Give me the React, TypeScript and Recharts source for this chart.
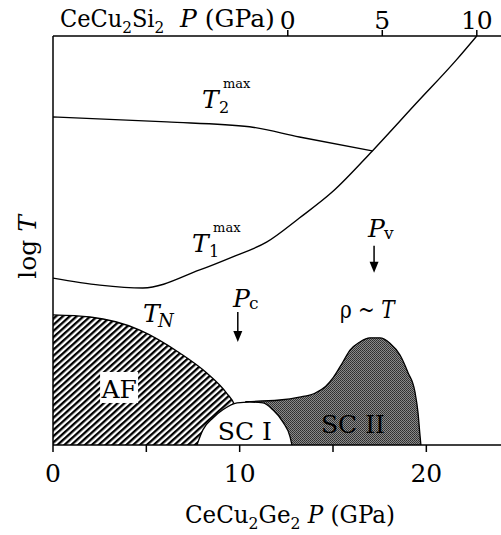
import React from 'react';
import {
  ComposedChart,
  XAxis,
  YAxis,
  Area,
  Line,
  ReferenceDot,
  ReferenceLine,
} from 'recharts';

const SERIF = "'DejaVu Serif', serif";
const FS = 25; // main text size
const FS_SUB = 17;

// CeCu2Ge2 pressure (GPa) vs. log T (arbitrary units, 0..100)
const AF_P = [0, 1.98, 4.65, 6.79, 8.24, 9.3, 9.73, 10.0, 10.16];
const AF_T = [31.8, 31.3, 28.1, 22.5, 17.6, 12.7, 9.8, 6.1, 0];

const SC1_P = [7.71, 8.03, 8.57, 9.1, 9.86, 10.55, 11.25, 11.78, 12.32, 12.7, 12.8];
const SC1_T = [0, 3.7, 6.6, 8.6, 10.3, 10.5, 10.3, 8.6, 5.6, 2.0, 0];

const SC2_P = [10.3, 12.14, 13.2, 14.0, 14.6, 15.0, 15.53, 15.91, 16.44, 16.98, 17.51, 18.05, 18.59, 19.01, 19.39, 19.55, 19.66, 19.71];
const SC2_T = [10.6, 11.0, 11.7, 12.6, 14.3, 16.4, 20.3, 23.2, 25.2, 26.2, 26.2, 24.9, 22.0, 17.8, 13.0, 8.1, 2.4, 0];

const T1_P = [0, 2.51, 4.81, 7.86, 9.63, 11.44, 13.2, 14.97, 17.11, 19.47, 21.6, 22.7];
const T1_T = [40.8, 39.1, 38.4, 42.8, 46.0, 49.6, 55.5, 61.9, 71.9, 83.6, 94.1, 100];

const T2_P = [0, 6.1, 10.53, 13.2, 17.11];
const T2_T = [80.2, 79.0, 77.8, 75.3, 71.9];

const BOTTOM_TICKS = [0, 5, 10, 15, 20];
const BOTTOM_LABELED = [0, 10, 20];
// CeCu2Si2 pressure scale (shifted against CeCu2Ge2)
const TOP_TICKS = [0, 5, 10];

const rows = (p: number[], t: number[]) => p.map((x, i) => ({ p: x, t: t[i] }));

const txt = { fill: '#000', fontFamily: SERIF } as const;

const TLabel = ({ cx, cy, sub, sup, subItalic }: any) => (
  <g>
    <text x={cx} y={cy} fontSize={FS} fontStyle="italic" {...txt}>T</text>
    <text x={cx + (sup ? 17 : 15)} y={cy + 5} fontSize={sup ? 16 : 18} fontStyle={subItalic ? 'italic' : 'normal'} {...txt}>{sub}</text>
    {sup && <text x={cx + 21} y={cy - 20} fontSize={13} {...txt}>{sup}</text>}
  </g>
);

const PLabel = ({ cx, cy, sub }: any) => (
  <g>
    <text x={cx} y={cy} fontSize={FS} fontStyle="italic" {...txt}>P</text>
    <text x={cx + 16} y={cy + 2} fontSize={FS_SUB} {...txt}>{sub}</text>
  </g>
);

const Arrow = ({ x1, y1, x2, y2 }: any) => (
  <g>
    <line x1={x1} y1={y1} x2={x2} y2={y2 - 8} stroke="#000" strokeWidth={1.5} />
    <polygon points={`${x2 - 4.5},${y2 - 11} ${x2 + 4.5},${y2 - 11} ${x2},${y2}`} fill="#000" />
  </g>
);

const RegionLabel = ({ cx, cy, text, boxed }: any) => (
  <g>
    {boxed && <rect x={cx - 19} y={cy - 26} width={38} height={31} fill="#fff" />}
    <text x={cx} y={cy} fontSize={FS} textAnchor="middle" {...txt}>{text}</text>
  </g>
);

const BottomTitle = ({ viewBox }: any) => (
  <text
    x={0}
    y={0}
    fontSize={FS}
    transform={`translate(${viewBox.x + 132},${viewBox.y + 78}) scale(0.92,1)`}
    {...txt}
  >
    CeCu<tspan fontSize={FS_SUB} dy={6}>2</tspan>
    <tspan dy={-6}>Ge</tspan>
    <tspan fontSize={FS_SUB} dy={6}>2</tspan>
    <tspan dy={-6} fontStyle="italic"> P</tspan>
    <tspan> (GPa)</tspan>
  </text>
);

const TopTitle = () => (
  <g>
    <text x={0} y={0} fontSize={FS} transform="translate(60,27) scale(0.9,1)" {...txt}>
      CeCu<tspan fontSize={FS_SUB} dy={6}>2</tspan>
      <tspan dy={-6}>Si</tspan>
      <tspan fontSize={FS_SUB} dy={6}>2</tspan>
    </text>
    <text x={180} y={27} fontSize={FS} {...txt}>
      <tspan fontStyle="italic">P</tspan> (GPa)
    </text>
  </g>
);

const YTitle = () => (
  <text x={0} y={0} fontSize={FS} textAnchor="middle" transform="translate(36,247) rotate(-90)" {...txt}>
    log <tspan fontStyle="italic">T</tspan>
  </text>
);

const tickText = { fontSize: FS, fill: '#000', fontFamily: SERIF };

export default function App() {
  return (
    <div style={{ position: 'absolute', left: 0, top: 0, background: '#fff' }}>
      <ComposedChart width={501} height={535} margin={{ top: 0, right: 0, bottom: 0, left: 0 }}>
        <defs>
          <pattern id="afHatch" width="4.6" height="4.6" patternUnits="userSpaceOnUse" patternTransform="rotate(-42)">
            <rect width="4.6" height="4.6" fill="#fff" />
            <rect width="4.6" height="2.3" fill="#000" />
          </pattern>
          <pattern id="sc2Dots" width="2" height="2" patternUnits="userSpaceOnUse">
            <rect width="2" height="2" fill="#8a8a8a" />
            <rect width="1" height="1" fill="#2e2e2e" />
            <rect x="1" y="1" width="1" height="1" fill="#3a3a3a" />
          </pattern>
        </defs>
        <XAxis
          type="number"
          dataKey="p"
          domain={[0, 24]}
          allowDataOverflow
          ticks={BOTTOM_TICKS}
          tickFormatter={(v: number) => (BOTTOM_LABELED.includes(v) ? String(v) : '')}
          height={90}
          tickSize={7}
          tickMargin={12}
          stroke="#000"
          axisLine={{ stroke: '#000', strokeWidth: 1.5 }}
          tickLine={{ stroke: '#000', strokeWidth: 1.5 }}
          tick={tickText}
          label={<BottomTitle />}
        />
        <XAxis
          xAxisId="top"
          orientation="top"
          type="number"
          dataKey="p"
          domain={[-12.42, 11.28]}
          allowDataOverflow
          ticks={TOP_TICKS}
          height={36}
          tickSize={6}
          tickMargin={1}
          stroke="#000"
          axisLine={{ stroke: '#000', strokeWidth: 1.5 }}
          tickLine={{ stroke: '#000', strokeWidth: 1.5 }}
          tick={tickText}
          label={<TopTitle />}
        />
        <YAxis
          type="number"
          dataKey="t"
          domain={[0, 100]}
          allowDataOverflow
          width={53}
          tick={false}
          tickLine={false}
          axisLine={{ stroke: '#000', strokeWidth: 1.5 }}
          label={<YTitle />}
        />

        <Area data={rows(AF_P, AF_T)} dataKey="t" type="monotone" baseValue={0} fill="url(#afHatch)" fillOpacity={1} stroke="#000" strokeWidth={1.3} isAnimationActive={false} />
        <Area data={rows(SC2_P, SC2_T)} dataKey="t" type="monotone" baseValue={0} fill="url(#sc2Dots)" fillOpacity={1} stroke="#000" strokeWidth={1.3} isAnimationActive={false} />
        <Area data={rows(SC1_P, SC1_T)} dataKey="t" type="monotone" baseValue={0} fill="#fff" fillOpacity={1} stroke="#000" strokeWidth={1.3} isAnimationActive={false} />

        <Line data={rows(T1_P, T1_T)} dataKey="t" type="monotone" dot={false} stroke="#000" strokeWidth={1.4} isAnimationActive={false} />
        <Line data={rows(T2_P, T2_T)} dataKey="t" type="monotone" dot={false} stroke="#000" strokeWidth={1.4} isAnimationActive={false} />
        {/* keeps the CeCu2Si2 axis bound to a series so its ticks render */}
        <Line xAxisId="top" data={TOP_TICKS.map((p) => ({ p, t: 100 }))} dataKey="t" stroke="none" dot={false} activeDot={false} isAnimationActive={false} />

        <ReferenceLine segment={[{ x: 9.9, y: 32.5 }, { x: 9.9, y: 25.2 }]} shape={(p: any) => <Arrow {...p} />} />
        <ReferenceLine segment={[{ x: 17.2, y: 48.7 }, { x: 17.2, y: 42.1 }]} shape={(p: any) => <Arrow {...p} />} />

        <ReferenceDot x={7.98} y={82.4} r={0} shape={(p: any) => <TLabel cx={p.cx} cy={p.cy} sub="2" sup="max" />} />
        <ReferenceDot x={7.45} y={47.2} r={0} shape={(p: any) => <TLabel cx={p.cx} cy={p.cy} sub="1" sup="max" />} />
        <ReferenceDot x={4.82} y={30.1} r={0} shape={(p: any) => <TLabel cx={p.cx} cy={p.cy} sub="N" subItalic />} />
        <ReferenceDot x={9.64} y={33.7} r={0} shape={(p: any) => <PLabel cx={p.cx} cy={p.cy} sub="c" />} />
        <ReferenceDot x={16.87} y={50.9} r={0} shape={(p: any) => <PLabel cx={p.cx} cy={p.cy} sub="v" />} />
        <ReferenceDot
          x={15.37}
          y={31.1}
          r={0}
          shape={(p: any) => (
            <text x={0} y={0} fontSize={FS} transform={`translate(${p.cx},${p.cy}) scale(0.8,1)`} {...txt}>
              ρ ~ <tspan fontStyle="italic">T</tspan>
            </text>
          )}
        />
        <ReferenceDot x={3.54} y={11.5} r={0} shape={(p: any) => <RegionLabel cx={p.cx} cy={p.cy} text="AF" boxed />} />
        <ReferenceDot x={10.28} y={1.2} r={0} shape={(p: any) => <RegionLabel cx={p.cx} cy={p.cy} text="SC I" />} />
        <ReferenceDot x={16.07} y={2.9} r={0} shape={(p: any) => <RegionLabel cx={p.cx} cy={p.cy} text="SC II" />} />
      </ComposedChart>
    </div>
  );
}
